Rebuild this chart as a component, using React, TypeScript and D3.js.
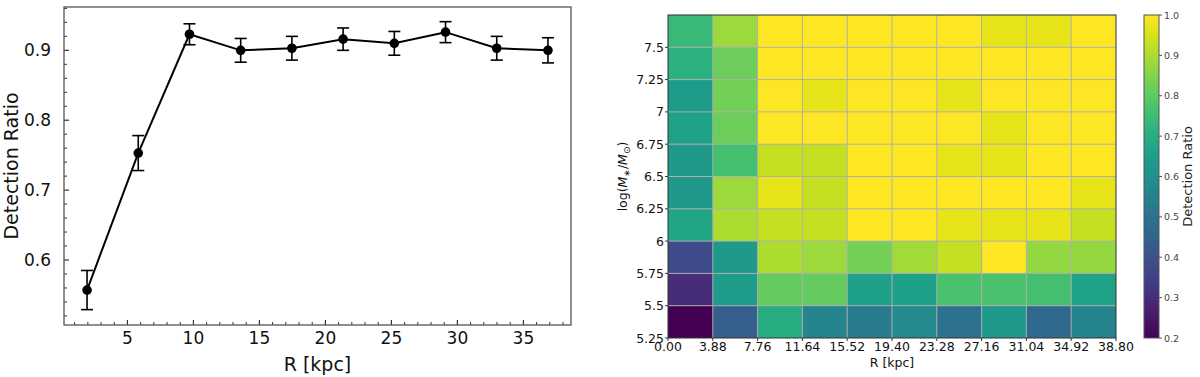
import React, { useEffect, useRef } from 'react';
import * as d3 from 'd3';

// left panel: detection ratio vs radius
const radius = [1.94, 5.82, 9.7, 13.58, 17.46, 21.34, 25.22, 29.1, 32.98, 36.86];
const ratio = [0.557, 0.753, 0.923, 0.900, 0.903, 0.916, 0.910, 0.926, 0.903, 0.900];
const ratioErr = [0.028, 0.025, 0.015, 0.017, 0.017, 0.016, 0.017, 0.015, 0.017, 0.018];
const xTicksLeft = [5, 10, 15, 20, 25, 30, 35];
const yTicksLeft = [0.6, 0.7, 0.8, 0.9];

// right panel: heatmap, rows from top (7.5-7.75) to bottom (5.25-5.5)
const rEdges = ['0.00', '3.88', '7.76', '11.64', '15.52', '19.40', '23.28', '27.16', '31.04', '34.92', '38.80'];
const massEdges = ['5.25', '5.5', '5.75', '6', '6.25', '6.5', '6.75', '7', '7.25', '7.5'];
const grid = [
  [0.74, 0.88, 1.0, 1.0, 1.0, 1.0, 1.0, 0.97, 0.97, 1.0],
  [0.71, 0.82, 1.0, 1.0, 1.0, 1.0, 1.0, 1.0, 1.0, 1.0],
  [0.64, 0.83, 1.0, 0.97, 1.0, 1.0, 0.97, 1.0, 1.0, 1.0],
  [0.66, 0.82, 1.0, 1.0, 1.0, 1.0, 1.0, 0.97, 1.0, 1.0],
  [0.63, 0.76, 0.93, 0.93, 1.0, 1.0, 0.97, 0.97, 1.0, 1.0],
  [0.63, 0.88, 0.97, 0.93, 1.0, 1.0, 1.0, 1.0, 1.0, 0.97],
  [0.67, 0.90, 0.93, 0.93, 1.0, 1.0, 0.97, 0.97, 0.97, 0.93],
  [0.38, 0.63, 0.90, 0.88, 0.83, 0.89, 0.93, 1.0, 0.87, 0.87],
  [0.30, 0.64, 0.81, 0.81, 0.65, 0.65, 0.77, 0.77, 0.76, 0.66],
  [0.20, 0.44, 0.70, 0.56, 0.53, 0.58, 0.50, 0.63, 0.47, 0.56],
];
const cbarTicks = [0.2, 0.3, 0.4, 0.5, 0.6, 0.7, 0.8, 0.9, 1.0];

const FONT = 'DejaVu Sans, sans-serif';

const App = () => {
  const svgRef = useRef(null);

  useEffect(() => {
    const svg = d3.select(svgRef.current);
    svg.selectAll('*').remove();

    // ---------- left panel ----------
    const L = { left: 64, right: 571, top: 7, bottom: 325 };
    const x = d3.scaleLinear().domain([0.194, 38.606]).range([L.left, L.right]);
    const y = d3.scaleLinear().domain([0.507, 0.962]).range([L.bottom, L.top]);
    const g = svg.append('g');

    // minor ticks
    const xMinor = d3.range(1, 39, 1).filter(v => v % 5 !== 0);
    const yMinor = d3.range(0.52, 0.961, 0.02).filter(v => Math.abs(v * 10 - Math.round(v * 10)) > 0.01);
    g.selectAll('.xminor').data(xMinor).enter().append('line')
      .attr('x1', d => x(d)).attr('x2', d => x(d))
      .attr('y1', L.bottom).attr('y2', L.bottom - 3)
      .style('stroke', '#333').style('stroke-width', 1);
    g.selectAll('.yminor').data(yMinor).enter().append('line')
      .attr('x1', L.left).attr('x2', L.left + 3)
      .attr('y1', d => y(d)).attr('y2', d => y(d))
      .style('stroke', '#333').style('stroke-width', 1);
    // major ticks + labels
    g.selectAll('.xmajor').data(xTicksLeft).enter().append('line')
      .attr('x1', d => x(d)).attr('x2', d => x(d))
      .attr('y1', L.bottom).attr('y2', L.bottom - 5)
      .style('stroke', '#333').style('stroke-width', 1.2);
    g.selectAll('.xlab').data(xTicksLeft).enter().append('text')
      .attr('x', d => x(d)).attr('y', 344)
      .attr('text-anchor', 'middle')
      .style('font-family', FONT).style('font-size', '17px').style('fill', '#111')
      .text(d => d);
    g.selectAll('.ymajor').data(yTicksLeft).enter().append('line')
      .attr('x1', L.left).attr('x2', L.left + 5)
      .attr('y1', d => y(d)).attr('y2', d => y(d))
      .style('stroke', '#333').style('stroke-width', 1.2);
    g.selectAll('.ylab').data(yTicksLeft).enter().append('text')
      .attr('x', 51).attr('y', d => y(d) + 6)
      .attr('text-anchor', 'end')
      .style('font-family', FONT).style('font-size', '17px').style('fill', '#111')
      .text(d => d.toFixed(1));

    g.append('rect')
      .attr('x', L.left).attr('y', L.top)
      .attr('width', L.right - L.left).attr('height', L.bottom - L.top)
      .style('fill', 'none').style('stroke', '#555').style('stroke-width', 1.3);

    g.append('text')
      .attr('transform', `translate(18,${(L.top + L.bottom) / 2}) rotate(-90)`)
      .attr('text-anchor', 'middle')
      .style('font-family', FONT).style('font-size', '19px').style('fill', '#111')
      .text('Detection Ratio');
    g.append('text')
      .attr('x', (L.left + L.right) / 2).attr('y', 371)
      .attr('text-anchor', 'middle')
      .style('font-family', FONT).style('font-size', '19px').style('fill', '#111')
      .text('R [kpc]');

    const pts = radius.map((r, i) => ({ r, v: ratio[i], e: ratioErr[i] }));
    g.append('path')
      .datum(pts)
      .attr('d', d3.line().x(d => x(d.r)).y(d => y(d.v)))
      .style('fill', 'none').style('stroke', '#000').style('stroke-width', 2);
    const eb = g.selectAll('.err').data(pts).enter().append('g');
    eb.append('line')
      .attr('x1', d => x(d.r)).attr('x2', d => x(d.r))
      .attr('y1', d => y(d.v - d.e)).attr('y2', d => y(d.v + d.e))
      .style('stroke', '#000').style('stroke-width', 1.6);
    [-1, 1].forEach(s => {
      eb.append('line')
        .attr('x1', d => x(d.r) - 6).attr('x2', d => x(d.r) + 6)
        .attr('y1', d => y(d.v + s * d.e)).attr('y2', d => y(d.v + s * d.e))
        .style('stroke', '#000').style('stroke-width', 1.6);
    });
    eb.append('circle')
      .attr('cx', d => x(d.r)).attr('cy', d => y(d.v)).attr('r', 4.8)
      .style('fill', '#000');

    // ---------- right panel: heatmap ----------
    const H = { left: 668, right: 1116, top: 15, bottom: 338 };
    const nCol = grid[0].length;
    const nRow = grid.length;
    const hx = d3.scaleLinear().domain([0, nCol]).range([H.left, H.right]);
    const hy = d3.scaleLinear().domain([0, nRow]).range([H.bottom, H.top]);
    const color = d3.scaleSequential(d3.interpolateViridis).domain([0.2, 1.0]);
    const h = svg.append('g');

    const cells = [];
    grid.forEach((row, ri) => row.forEach((v, ci) => cells.push({ row: nRow - 1 - ri, col: ci, v })));
    h.selectAll('.cell').data(cells).enter().append('rect')
      .attr('x', d => hx(d.col)).attr('y', d => hy(d.row + 1))
      .attr('width', hx(1) - hx(0)).attr('height', hy(0) - hy(1))
      .style('fill', d => color(d.v))
      .style('shape-rendering', 'crispEdges');

    // grid lines
    h.selectAll('.gv').data(d3.range(1, nCol)).enter().append('line')
      .attr('x1', d => hx(d)).attr('x2', d => hx(d))
      .attr('y1', H.top).attr('y2', H.bottom)
      .style('stroke', '#b0b0b0').style('stroke-width', 1);
    h.selectAll('.gh').data(d3.range(1, nRow)).enter().append('line')
      .attr('x1', H.left).attr('x2', H.right)
      .attr('y1', d => hy(d)).attr('y2', d => hy(d))
      .style('stroke', '#b0b0b0').style('stroke-width', 1);

    h.append('rect')
      .attr('x', H.left).attr('y', H.top)
      .attr('width', H.right - H.left).attr('height', H.bottom - H.top)
      .style('fill', 'none').style('stroke', '#333').style('stroke-width', 1);

    // x ticks at bin edges
    h.selectAll('.hxt').data(rEdges).enter().append('line')
      .attr('x1', (d, i) => hx(i)).attr('x2', (d, i) => hx(i))
      .attr('y1', H.bottom).attr('y2', H.bottom + 3)
      .style('stroke', '#333').style('stroke-width', 1);
    h.selectAll('.hxl').data(rEdges).enter().append('text')
      .attr('x', (d, i) => hx(i)).attr('y', 351)
      .attr('text-anchor', 'middle')
      .style('font-family', FONT).style('font-size', '12.5px').style('fill', '#111')
      .text(d => d);
    h.selectAll('.hyt').data(massEdges).enter().append('line')
      .attr('x1', H.left - 3).attr('x2', H.left)
      .attr('y1', (d, i) => hy(i)).attr('y2', (d, i) => hy(i))
      .style('stroke', '#333').style('stroke-width', 1);
    h.selectAll('.hyl').data(massEdges).enter().append('text')
      .attr('x', H.left - 4).attr('y', (d, i) => hy(i) + 4.5)
      .attr('text-anchor', 'end')
      .style('font-family', FONT).style('font-size', '12.5px').style('fill', '#111')
      .text(d => d);

    h.append('text')
      .attr('x', (H.left + H.right) / 2).attr('y', 367)
      .attr('text-anchor', 'middle')
      .style('font-family', FONT).style('font-size', '12.5px').style('fill', '#111')
      .text('R [kpc]');

    const ylab = h.append('text')
      .attr('transform', `translate(627,${(H.top + H.bottom) / 2}) rotate(-90)`)
      .attr('text-anchor', 'middle')
      .style('font-family', FONT).style('font-size', '12.5px').style('fill', '#111');
    ylab.append('tspan').text('log(');
    ylab.append('tspan').style('font-style', 'italic').text('M');
    ylab.append('tspan').attr('dy', 3).style('font-size', '9px').text('∗');
    ylab.append('tspan').attr('dy', -3).text('/');
    ylab.append('tspan').style('font-style', 'italic').text('M');
    ylab.append('tspan').attr('dy', 3).style('font-size', '9px').text('⊙');
    ylab.append('tspan').attr('dy', -3).text(')');

    // colorbar
    const C = { left: 1144, right: 1159, top: 15, bottom: 338 };
    const cy = d3.scaleLinear().domain([0.2, 1.0]).range([C.bottom, C.top]);
    const defs = svg.append('defs');
    const grad = defs.append('linearGradient')
      .attr('id', 'viridis').attr('x1', 0).attr('y1', 1).attr('x2', 0).attr('y2', 0);
    d3.range(0, 1.0001, 0.05).forEach(t => {
      grad.append('stop').attr('offset', t).attr('stop-color', d3.interpolateViridis(t));
    });
    h.append('rect')
      .attr('x', C.left).attr('y', C.top)
      .attr('width', C.right - C.left).attr('height', C.bottom - C.top)
      .style('fill', 'url(#viridis)').style('stroke', '#555').style('stroke-width', 1);
    h.selectAll('.ct').data(cbarTicks).enter().append('line')
      .attr('x1', C.right).attr('x2', C.right + 3)
      .attr('y1', d => cy(d)).attr('y2', d => cy(d))
      .style('stroke', '#555').style('stroke-width', 1);
    h.selectAll('.cl').data(cbarTicks).enter().append('text')
      .attr('x', C.right + 5).attr('y', d => cy(d) + 3.5)
      .style('font-family', FONT).style('font-size', '9.5px').style('fill', '#444')
      .text(d => d.toFixed(1));
    h.append('text')
      .attr('transform', `translate(1192,${(C.top + C.bottom) / 2}) rotate(-90)`)
      .attr('text-anchor', 'middle')
      .style('font-family', FONT).style('font-size', '13px').style('fill', '#222')
      .text('Detection Ratio');

    return () => {
      svg.selectAll('*').remove();
    };
  }, []);

  return (
    <svg ref={svgRef} width={1200} height={377}
      style={{ position: 'absolute', left: 0, top: 0, background: '#fff' }} />
  );
};

export default App;
